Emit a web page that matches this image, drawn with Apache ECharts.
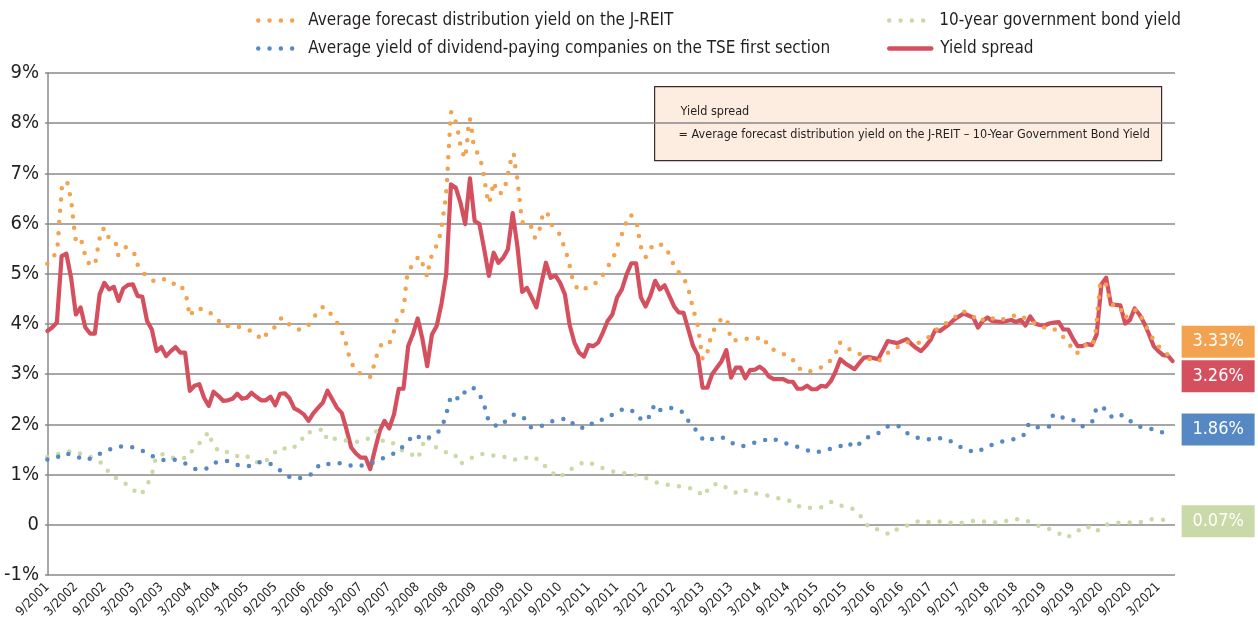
<!DOCTYPE html>
<html>
<head>
<meta charset="utf-8">
<title>J-REIT yield spread</title>
<script src="https://cdn.jsdelivr.net/npm/echarts@6/dist/echarts.min.js"></script>
<style>
  html, body { margin: 0; padding: 0; background: #fff; }
  #chart { width: 1258px; height: 628px; }
</style>
</head>
<body>
<div id="chart"></div>
<script>
// monthly, 9/2001 .. 6/2021
const startYear = 2001;
const startMonth = 9;

// yield spread, one value per month (%)
const spreadYield = [
  3.86,3.93,4.03,5.35,5.40,4.92,4.19,4.33,3.93,3.81,
  3.81,4.59,4.82,4.69,4.74,4.46,4.71,4.78,4.79,4.56,
  4.54,4.06,3.89,3.46,3.54,3.36,3.46,3.54,3.43,3.43,
  2.67,2.77,2.80,2.53,2.37,2.65,2.57,2.47,2.48,2.51,
  2.61,2.51,2.53,2.63,2.55,2.48,2.48,2.55,2.38,2.61,
  2.62,2.52,2.32,2.27,2.20,2.07,2.22,2.33,2.43,2.67,
  2.50,2.33,2.23,1.90,1.54,1.42,1.34,1.34,1.11,1.50,
  1.87,2.07,1.92,2.20,2.71,2.71,3.56,3.80,4.11,3.70,
  3.16,3.79,3.96,4.40,4.99,6.78,6.72,6.42,5.99,6.90,
  6.05,5.99,5.49,4.96,5.42,5.22,5.32,5.49,6.21,5.55,
  4.64,4.72,4.53,4.33,4.79,5.22,4.92,4.97,4.82,4.59,
  3.98,3.63,3.43,3.35,3.58,3.56,3.63,3.83,4.06,4.19,
  4.53,4.69,4.99,5.21,5.21,4.53,4.35,4.56,4.86,4.69,
  4.77,4.56,4.35,4.23,4.22,3.89,3.56,3.38,2.73,2.73,
  3.00,3.13,3.26,3.48,2.93,3.13,3.13,2.92,3.08,3.09,
  3.15,3.08,2.95,2.90,2.90,2.90,2.85,2.85,2.71,2.71,
  2.77,2.70,2.70,2.77,2.75,2.86,3.05,3.30,3.22,3.16,
  3.10,3.22,3.33,3.34,3.32,3.30,3.48,3.66,3.64,3.62,
  3.66,3.70,3.60,3.52,3.46,3.56,3.68,3.88,3.86,3.93,
  4.00,4.09,4.15,4.21,4.17,4.13,3.93,4.06,4.13,4.06,
  4.05,4.04,4.06,4.08,4.04,4.08,3.97,4.15,4.01,3.98,
  3.97,4.01,4.03,4.04,3.89,3.89,3.71,3.56,3.56,3.60,
  3.58,3.79,4.79,4.92,4.39,4.38,4.37,4.01,4.08,4.31,
  4.19,4.02,3.80,3.56,3.46,3.38,3.37,3.26
];

// dotted series: [month index from 9/2001, yield %]
const jreitYield = [
  [0,5.20],[1.0,5.28],[2.1,5.49],[2.3,5.73],[2.44,5.97],[2.65,6.22],[2.86,6.46],[3.01,6.70],[4.13,6.85],[4.70,6.61],
  [5.12,6.37],[5.39,6.13],[5.67,5.89],[6.02,5.64],[7.08,5.69],[7.71,5.45],[8.49,5.22],[10.02,5.17],[10.45,5.41],[10.87,5.65],
  [11.44,5.89],[12.34,5.90],[13.04,5.67],[14.38,5.62],[14.93,5.37],[16.49,5.53],[18.24,5.42],[18.93,5.19],[20.41,5.00],[22.30,4.86],
  [24.28,4.91],[26.18,4.79],[27.57,4.82],[29.13,4.63],[29.55,4.39],[29.97,4.15],[31.09,4.31],[33.40,4.29],[35.30,4.15],[37.05,3.96],
  [39.51,3.96],[41.62,3.91],[43.72,3.83],[45.20,3.68],[46.73,3.87],[48.29,3.96],[49.35,4.13],[51.24,3.97],[53.20,3.88],[55.16,3.99],
  [56.57,4.19],[58.11,4.35],[59.88,4.18],[61.41,3.97],[62.47,3.75],[63.16,3.52],[63.73,3.28],[64.99,3.06],[67.10,2.95],[68.15,2.95],
  [68.85,3.20],[69.56,3.43],[70.62,3.65],[72.15,3.64],[73.06,3.87],[73.69,4.11],[74.96,4.28],[75.31,4.53],[75.52,4.77],[75.88,5.01],
  [77.10,5.22],[78.30,5.35],[79.38,5.12],[80.01,4.94],[80.43,5.18],[81.06,5.41],[82.26,5.61],[82.90,5.85],[83.25,6.09],[83.67,6.34],
  [83.95,6.58],[84.16,6.82],[84.31,7.07],[84.43,7.31],[84.58,7.55],[84.73,7.80],[84.85,8.04],[85.06,8.23],[86.12,8.01],[86.62,7.77],
  [87.04,7.53],[87.89,7.30],[88.31,7.51],[88.52,7.76],[88.73,8.00],[89.00,8.09],[89.43,7.84],[89.70,7.61],[90.54,7.41],[91.38,7.21],
  [91.89,6.98],[92.31,6.73],[92.73,6.48],[93.07,6.40],[93.58,6.64],[94.06,6.83],[94.75,6.60],[96.02,6.62],[96.73,6.85],[97.28,7.10],
  [97.79,7.35],[98.21,7.40],[98.55,7.14],[98.97,6.90],[99.26,6.65],[99.53,6.41],[99.81,6.17],[100.23,5.97],[101.85,5.95],[102.69,5.72],
  [103.33,5.75],[103.89,5.98],[104.44,6.22],[105.28,6.22],[106.12,5.99],[107.75,5.81],[108.65,5.59],[109.50,5.35],[110.13,5.12],[110.63,4.88],
  [111.81,4.67],[113.37,4.71],[114.76,4.77],[116.38,4.88],[117.71,5.10],[119.12,5.29],[119.90,5.52],[120.87,5.75],[121.71,5.98],[122.85,6.18],
  [124.11,6.03],[124.53,5.79],[124.95,5.55],[126.01,5.33],[127.27,5.53],[128.39,5.61],[130.07,5.55],[131.27,5.33],[132.24,5.10],[133.93,4.94],
  [134.98,4.71],[135.55,4.48],[136.18,4.24],[136.92,4.01],[137.30,3.76],[137.65,3.52],[138.01,3.29],[139.19,3.48],[139.69,3.73],[140.66,3.94],
  [142.22,4.13],[143.19,4.07],[143.61,3.83],[144.24,3.66],[146.35,3.71],[148.67,3.70],[150.78,3.74],[151.97,3.53],[154.29,3.43],[156.76,3.33],
  [158.02,3.13],[160.04,3.04],[162.36,3.10],[164.46,3.22],[166.02,3.41],[166.78,3.64],[168.47,3.52],[170.66,3.42],[172.76,3.32],[174.93,3.24],
  [176.89,3.42],[178.87,3.53],[180.83,3.64],[183.21,3.61],[185.19,3.70],[186.94,3.87],[188.83,3.99],[190.79,4.11],[192.77,4.26],[194.73,4.18],
  [196.20,4.04],[198.16,4.15],[200.42,4.06],[202.58,4.14],[204.69,4.19],[206.25,4.09],[207.64,4.03],[209.53,3.93],[211.64,3.93],[213.62,3.78],
  [215.16,3.60],[216.78,3.41],[218.53,3.58],[220.15,3.56],[220.70,3.79],[220.99,4.04],[221.20,4.29],[221.48,4.53],[221.69,4.77],[222.80,4.86],
  [223.44,4.59],[224.00,4.39],[225.90,4.35],[226.74,4.11],[228.15,4.21],[229.42,4.29],[230.81,4.08],[231.86,3.87],[233.13,3.66],[234.90,3.46],
  [236.78,3.34],[237,3.33]
];

const tseDividendYield = [
  [0,1.30],[1.60,1.32],[3.77,1.43],[6.09,1.36],[8.34,1.29],[10.51,1.39],[12.76,1.49],[14.93,1.56],[17.40,1.56],[19.71,1.49],
  [22.03,1.37],[24.41,1.29],[26.66,1.30],[29.04,1.22],[31.23,1.11],[33.34,1.11],[35.36,1.24],[37.83,1.27],[40.14,1.19],[42.52,1.17],
  [44.84,1.25],[47.09,1.21],[49.20,1.07],[51.37,0.93],[53.68,0.93],[55.88,1.02],[57.41,1.21],[59.73,1.21],[62.26,1.23],[64.64,1.16],
  [67.04,1.19],[69.48,1.27],[71.67,1.37],[73.90,1.46],[75.63,1.64],[77.42,1.80],[79.04,1.70],[80.73,1.75],[82.73,1.88],[83.70,2.10],
  [84.37,2.33],[85.00,2.57],[87.00,2.50],[88.31,2.71],[89.85,2.72],[91.47,2.52],[92.31,2.29],[92.94,2.06],[94.96,1.95],[97.07,2.10],
  [98.33,2.20],[100.44,2.12],[101.85,1.94],[103.81,1.96],[106.12,2.06],[107.96,2.10],[109.64,2.12],[111.39,1.95],[113.50,1.92],[115.48,2.08],
  [117.50,2.10],[119.39,2.22],[121.65,2.32],[123.75,2.25],[125.38,2.06],[127.06,2.17],[127.82,2.40],[129.17,2.28],[131.49,2.33],[133.72,2.25],
  [135.13,2.05],[136.75,1.87],[138.29,1.67],[139.69,1.70],[142.02,1.75],[143.83,1.64],[146.14,1.56],[148.39,1.62],[150.78,1.68],[152.46,1.73],
  [154.78,1.64],[157.10,1.58],[159.50,1.50],[161.87,1.44],[164.25,1.50],[166.57,1.54],[168.34,1.64],[170.29,1.54],[172.05,1.72],[173.67,1.77],
  [175.71,1.86],[177.25,1.98],[179.36,1.96],[181.32,1.81],[183.63,1.72],[186.10,1.70],[188.47,1.73],[190.87,1.64],[192.98,1.51],[195.51,1.44],
  [197.74,1.54],[199.57,1.62],[201.83,1.68],[204.06,1.71],[205.83,1.80],[206.74,2.02],[208.70,1.94],[210.95,1.96],[211.86,2.20],[214.11,2.13],
  [215.86,2.10],[217.91,1.96],[220.01,2.04],[220.70,2.27],[222.17,2.37],[223.65,2.17],[225.21,2.12],[226.39,2.19],[228.22,2.06],[229.84,1.96],
  [232.22,1.92],[234.32,1.84],[236.86,1.87],[237,1.86]
];

const jgb10yYield = [
  [0,1.35],[3.85,1.45],[5.60,1.47],[7.77,1.39],[10.09,1.32],[11.98,1.19],[13.25,0.99],[15.29,0.89],[17.40,0.76],[19.36,0.59],
  [20.49,0.69],[21.61,0.91],[22.39,1.13],[22.87,1.36],[24.35,1.41],[25.82,1.34],[27.93,1.33],[29.46,1.33],[30.87,1.53],[32.41,1.66],
  [33.97,1.85],[34.67,1.64],[36.14,1.45],[38.39,1.45],[40.20,1.36],[41.76,1.39],[43.57,1.25],[45.62,1.23],[47.24,1.39],[49.13,1.54],
  [51.09,1.49],[53.20,1.63],[54.40,1.84],[56.00,1.85],[58.11,1.91],[58.95,1.68],[60.93,1.72],[63.25,1.67],[65.48,1.65],[67.73,1.72],
  [69.21,1.86],[70.74,1.66],[72.52,1.65],[74.26,1.50],[76.37,1.42],[78.11,1.32],[78.83,1.56],[80.01,1.76],[81.57,1.56],[83.38,1.45],
  [85.70,1.42],[86.90,1.21],[88.52,1.29],[90.63,1.40],[92.52,1.42],[94.42,1.37],[96.38,1.35],[97.85,1.29],[100.17,1.32],[102.21,1.37],
  [104.11,1.24],[105.79,1.07],[107.90,0.94],[109.50,1.08],[110.97,1.14],[113.16,1.26],[115.54,1.19],[117.86,1.09],[120.33,1.04],[122.64,1.01],
  [125.17,0.97],[127.27,0.88],[129.44,0.81],[131.97,0.78],[134.28,0.75],[136.39,0.71],[138.22,0.57],[139.55,0.77],[141.30,0.83],[143.55,0.71],
  [145.72,0.61],[147.35,0.69],[149.45,0.62],[151.83,0.58],[154.29,0.52],[156.67,0.47],[158.78,0.34],[160.97,0.34],[163.08,0.35],[165.19,0.46],
  [167.50,0.37],[169.94,0.31],[171.63,0.14],[173.04,-0.06],[175.37,-0.10],[177.47,-0.20],[179.21,-0.07],[181.47,0.00],[183.93,0.09],[186.37,0.04],
  [188.77,0.08],[191.08,0.02],[193.40,0.05],[195.93,0.09],[198.37,0.05],[200.90,0.04],[203.37,0.12],[205.89,0.10],[208.06,0.00],[210.38,-0.06],
  [212.63,-0.15],[214.67,-0.26],[216.70,-0.14],[218.81,-0.02],[220.91,-0.14],[222.47,-0.01],[224.91,0.04],[227.37,0.05],[229.84,0.04],[232.22,0.11],
  [234.27,0.11],[236.86,0.08],[237,0.07]
];

const seriesNames = [
  'Average forecast distribution yield on the J-REIT',
  'Average yield of dividend-paying companies on the TSE first section',
  '10-year government bond yield',
  'Yield spread'
];
const noteLines = [
  'Yield spread',
  '= Average forecast distribution yield on the J-REIT \u2013 10-Year Government Bond Yield'
];

// category labels m/yyyy for every month
const monthLabels = [];
for (let k = 0; k < spreadYield.length; k++) {
  const m0 = startMonth - 1 + k;
  monthLabels.push((m0 % 12 + 1) + '/' + (startYear + Math.floor(m0 / 12)));
}

const FONT = "'DejaVu Sans Condensed', 'Liberation Sans Narrow', sans-serif";
const TEXT = '#231f20';
const GRID = '#8a8a8a';
const C_ORANGE = '#f3a24f';
const C_BLUE = '#5689c3';
const C_GREEN = '#c9daa8';
const C_RED = '#d5505f';
const DOTS = [0, 11.3];

function endLabel(color, dy) {
  return {
    show: true,
    position: 'right',
    distance: 9,
    offset: [0, dy],
    backgroundColor: color,
    padding: 0,
    formatter: p => {
      const v = Array.isArray(p.value) ? p.value[1] : p.value;
      return '{v|' + v.toFixed(2) + '%}';
    },
    rich: {
      v: { width: 73, height: 32, lineHeight: 32, align: 'center',
           color: '#fff', fontSize: 18, fontFamily: FONT }
    }
  };
}

function legendItem(name, left, top, color, dotted) {
  return {
    data: [name],
    left: left,
    top: top,
    padding: 0,
    orient: 'horizontal',
    itemWidth: dotted ? 36 : 42,
    itemHeight: 12,
    itemStyle: { opacity: 0 },
    lineStyle: dotted
      ? { width: 4.5, type: DOTS, cap: 'round', color: color }
      : { width: 4.5, type: 'solid', cap: 'round', color: color },
    textStyle: { fontFamily: FONT, fontSize: 17, color: TEXT, padding: [0, 0, 0, dotted ? 9 : 4] }
  };
}

function dottedSeries(name, data, color, dy) {
  return {
    name: name,
    type: 'line',
    xAxisIndex: 1,
    data: data,
    symbol: 'none',
    lineStyle: { color: color, width: 4.5, type: DOTS, cap: 'round', join: 'round' },
    itemStyle: { color: color },
    endLabel: endLabel(color, dy),
    z: 3
  };
}

const chart = echarts.init(document.getElementById('chart'), null, { renderer: 'canvas' });

chart.setOption({
  animation: false,
  backgroundColor: '#fff',
  grid: { left: 45, right: 83, top: 73, bottom: 53 },
  legend: [
    legendItem(seriesNames[0], 256, 12, C_ORANGE, true),
    legendItem(seriesNames[1], 256, 40, C_BLUE, true),
    legendItem(seriesNames[2], 887, 12, C_GREEN, true),
    legendItem(seriesNames[3], 887, 40, C_RED, false)
  ],
  xAxis: [
    {
      type: 'category',
      data: monthLabels,
      boundaryGap: true,
      axisLine: { show: false },
      axisTick: { show: false },
      axisLabel: {
        interval: 5,
        rotate: 45,
        margin: 10,
        fontFamily: FONT,
        fontSize: 13,
        color: TEXT
      },
      splitLine: { show: false }
    },
    {
      type: 'value',
      min: -0.5,
      max: spreadYield.length - 0.5,
      show: false
    }
  ],
  yAxis: {
    type: 'value',
    min: -1,
    max: 9,
    interval: 1,
    axisLine: { show: true, lineStyle: { color: GRID, width: 1.5 } },
    axisTick: { show: false },
    axisLabel: {
      margin: 6,
      fontFamily: FONT,
      fontSize: 20,
      color: TEXT,
      formatter: v => (v === 0 ? '0' : v + '%')
    },
    splitLine: { show: true, lineStyle: { color: GRID, width: 1.5 } }
  },
  graphic: [
    {
      type: 'group',
      left: 654,
      top: 86,
      z: 10,
      children: [
        {
          type: 'rect',
          shape: { x: 0, y: 0, width: 507, height: 74 },
          style: { fill: '#fdece0', stroke: '#3a2c2c', lineWidth: 1.2 }
        },
        {
          type: 'text',
          x: 26, y: 25,
          style: { text: noteLines[0], font: '12.5px ' + FONT, fill: TEXT, verticalAlign: 'middle' }
        },
        {
          type: 'text',
          x: 24, y: 48,
          style: { text: noteLines[1], font: '12.5px ' + FONT, fill: TEXT, verticalAlign: 'middle' }
        }
      ]
    }
  ],
  series: [
    {
      name: seriesNames[3],
      type: 'line',
      xAxisIndex: 0,
      data: spreadYield,
      symbol: 'none',
      lineStyle: { color: C_RED, width: 4.2, join: 'round', cap: 'round' },
      itemStyle: { color: C_RED },
      endLabel: endLabel(C_RED, 15),
      z: 2
    },
    dottedSeries(seriesNames[2], jgb10yYield, C_GREEN, 0),
    dottedSeries(seriesNames[1], tseDividendYield, C_BLUE, -2),
    dottedSeries(seriesNames[0], jreitYield, C_ORANGE, -16)
  ]
});
</script>
</body>
</html>
